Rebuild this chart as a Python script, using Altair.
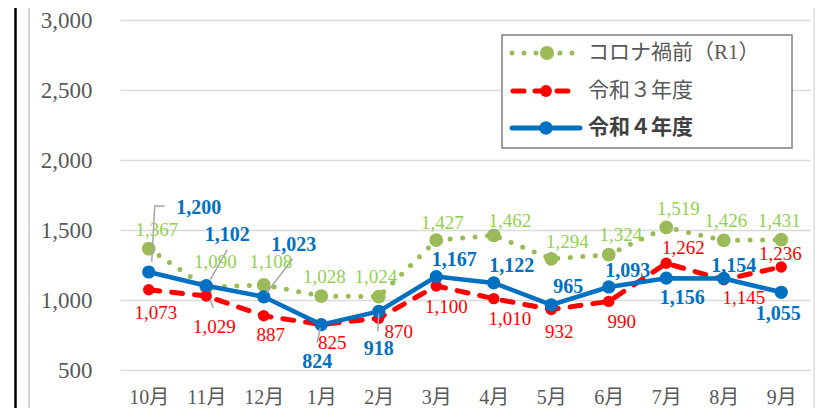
import json
import altair as alt
import pandas as pd

# ---- data ----
months = ["10月", "11月", "12月", "1月", "2月", "3月", "4月", "5月", "6月", "7月", "8月", "9月"]
r1 = [1367, 1090, 1108, 1028, 1024, 1427, 1462, 1294, 1324, 1519, 1426, 1431]
r3 = [1073, 1029, 887, 825, 870, 1100, 1010, 932, 990, 1262, 1145, 1236]
r4 = [1200, 1102, 1023, 824, 918, 1167, 1122, 965, 1093, 1156, 1154, 1055]
series_names = ["コロナ禍前（R1）", "令和３年度", "令和４年度"]
y_ticks = [500, 1000, 1500, 2000, 2500, 3000]

# label offsets (pixels, text centre relative to point)
off_r1 = [(8, -19), (9, -25), (7, -23), (3, -19), (-3, -20), (6, -17), (16, -14), (16, -17), (12, -20), (12, -18), (2, -19), (-2, -19)]
off_r3 = [(7, 23), (8, 31), (7, 19), (11, 18), (20, 14), (10, 21), (16, 20), (8, 22), (13, 21), (17, -15), (20, 18), (-1, -13)]
off_r4 = [(50, -64), (21, -51), (30, -52), (-4, 37), (0, 38), (18, -17), (18, -17), (17, -18), (19, -16), (16, 20), (10, -12), (-3, 22)]

# leader lines: (series values, month index, polyline offsets in px)
leaders = [
    (r4, 0, [(3, -10), (6, -66), (16, -66)]),
    (r4, 1, [(4, -6), (21, -36)]),
    (r3, 1, [(4, 4), (7, 12)]),
    (r4, 2, [(3, -4), (29, -38)]),
    (r4, 3, [(-1, 3), (-4, 18)]),
    (r4, 4, [(0, 2), (-1, 20)]),
]

W, H = 690, 350
YMIN, YMAX = 500, 3000
PX_X = W / len(months)          # px per month index
PX_Y = (YMAX - YMIN) / H        # value units per px

n = len(months)
idx = list(range(n))

def series_df(name, vals, offs):
    return pd.DataFrame({
        "series": name,
        "i": idx,
        "v": vals,
        "lx": [i + dx / PX_X for i, (dx, dy) in zip(idx, offs)],
        "ly": [v - dy * PX_Y for v, (dx, dy) in zip(vals, offs)],
        "txt": [f"{v:,}" for v in vals],
    })

d1 = series_df(series_names[0], r1, off_r1)
d3 = series_df(series_names[1], r3, off_r3)
d4 = series_df(series_names[2], r4, off_r4)

rows = []
for k, (vals, i, pts) in enumerate(leaders):
    for o, (dx, dy) in enumerate(pts):
        rows.append({"g": k, "o": o, "i": i + dx / PX_X, "v": vals[i] - dy * PX_Y})
dlead = pd.DataFrame(rows)

label_expr = json.dumps(months, ensure_ascii=False) + "[datum.value]"
SERIF = "'Liberation Serif', 'Noto Sans CJK JP', serif"

xenc = alt.X("i:Q", scale=alt.Scale(domain=[-0.5, n - 0.5], nice=False, zero=False),
             axis=alt.Axis(values=idx, labelExpr=label_expr, grid=False, domain=False, ticks=False,
                           labelFont=SERIF, labelFontSize=20,
                           labelColor="#595959", labelPadding=17, labelFlush=False,
                           labelOverlap=False, title=None))
yenc = alt.Y("v:Q", scale=alt.Scale(domain=[YMIN, YMAX], nice=False, zero=False),
             axis=alt.Axis(values=y_ticks, format=",d", grid=True, gridColor="#D9D9D9", gridWidth=1.5,
                           domain=False, ticks=False, labelFont=SERIF, labelFontSize=23,
                           labelColor="#595959", labelPadding=28, labelOverlap=False, title=None))

GREEN, GREEN_T, RED, BLUE = "#9BBB59", "#92D050", "#FF0000", "#0070C0"

def lines(df, color, size, **kw):
    b = alt.Chart(df)
    ln = b.mark_line(color=color, **kw).encode(x=xenc, y=yenc)
    pt = b.mark_circle(color=color, size=size, opacity=1).encode(x="i:Q", y="v:Q")
    return ln + pt

def labels(df, color, **kw):
    return alt.Chart(df).mark_text(color=color, baseline="middle", align="center", **kw).encode(
        x="lx:Q", y="ly:Q", text="txt:N")

g_layer = lines(d1, GREEN, 190, strokeWidth=5, strokeDash=[0, 12.5], strokeCap="round")
r_layer = lines(d3, RED, 130, strokeWidth=5, strokeDash=[11, 12], strokeCap="round")
b_layer = lines(d4, BLUE, 175, strokeWidth=4.5)

lead_layer = alt.Chart(dlead).mark_line(color="#A6A6A6", strokeWidth=1.5).encode(
    x="i:Q", y="v:Q", detail="g:N", order="o:Q")

lab = (labels(d1, GREEN_T, font=SERIF, fontSize=19)
       + labels(d3, RED, font=SERIF, fontSize=19)
       + labels(d4, BLUE, font=SERIF, fontSize=20, fontWeight="bold"))

# ---- manual legend ----
one = pd.DataFrame({"a": [0]})
lg = alt.Chart(one)
leg_box = lg.mark_rect(fill="white", stroke="#7F7F7F", strokeWidth=1.5).encode(
    x=alt.value(382), x2=alt.value(672), y=alt.value(15), y2=alt.value(128))
rows_y = [33, 71, 108]
leg_g = lg.mark_rule(color=GREEN, strokeWidth=5, strokeDash=[0, 12], strokeCap="round").encode(
    x=alt.value(392), x2=alt.value(456), y=alt.value(rows_y[0]))
leg_gp = lg.mark_circle(color=GREEN, size=200, opacity=1).encode(x=alt.value(427), y=alt.value(rows_y[0]))
leg_r = lg.mark_rule(color=RED, strokeWidth=5, strokeDash=[11, 11], strokeCap="round").encode(
    x=alt.value(393), x2=alt.value(458), y=alt.value(rows_y[1]))
leg_rp = lg.mark_circle(color=RED, size=140, opacity=1).encode(x=alt.value(426), y=alt.value(rows_y[1]))
leg_b = lg.mark_rule(color=BLUE, strokeWidth=5, strokeCap="round").encode(
    x=alt.value(392), x2=alt.value(460), y=alt.value(rows_y[2]))
leg_bp = lg.mark_circle(color=BLUE, size=180, opacity=1).encode(x=alt.value(426), y=alt.value(rows_y[2]))
legfont = "'Liberation Serif', 'Noto Sans CJK JP'"
leg_t1 = lg.mark_text(text=series_names[0], align="left", baseline="middle", font=legfont, fontSize=21,
                      color="#595959").encode(x=alt.value(468), y=alt.value(rows_y[0]))
leg_t2 = lg.mark_text(text=series_names[1], align="left", baseline="middle", font=legfont, fontSize=21,
                      color="#595959").encode(x=alt.value(468), y=alt.value(rows_y[1]))
leg_t3 = lg.mark_text(text=series_names[2], align="left", baseline="middle", font=legfont, fontSize=21,
                      fontWeight="bold", color="#404040").encode(x=alt.value(468), y=alt.value(rows_y[2]))

# ---- frame lines (page decoration) ----
fr1 = lg.mark_rule(color="#DDDDDD", strokeWidth=1).encode(x=alt.value(-117), y=alt.value(-20), y2=alt.value(400))
fr2 = lg.mark_rule(color="#000000", strokeWidth=2.5).encode(x=alt.value(-104.5), y=alt.value(-20), y2=alt.value(400))
fr3 = lg.mark_rule(color="#D4D4D4", strokeWidth=2).encode(x=alt.value(-91), y=alt.value(-20), y2=alt.value(400))
fr4 = lg.mark_rule(color="#DDDDDD", strokeWidth=1.5).encode(x=alt.value(694), y=alt.value(-20), y2=alt.value(400))

chart = alt.layer(
    g_layer, r_layer, b_layer, lead_layer, lab,
    leg_box, leg_g, leg_gp, leg_r, leg_rp, leg_b, leg_bp, leg_t1, leg_t2, leg_t3,
    fr1, fr2, fr3, fr4,
).properties(
    width=W, height=H,
    autosize=alt.AutoSizeParams(type="none"),
    padding={"left": 112, "top": 12, "right": 8, "bottom": 38},
    background="white",
).configure_view(stroke=None)

chart.save("out.html", embed_options={"renderer": "svg", "actions": False})
